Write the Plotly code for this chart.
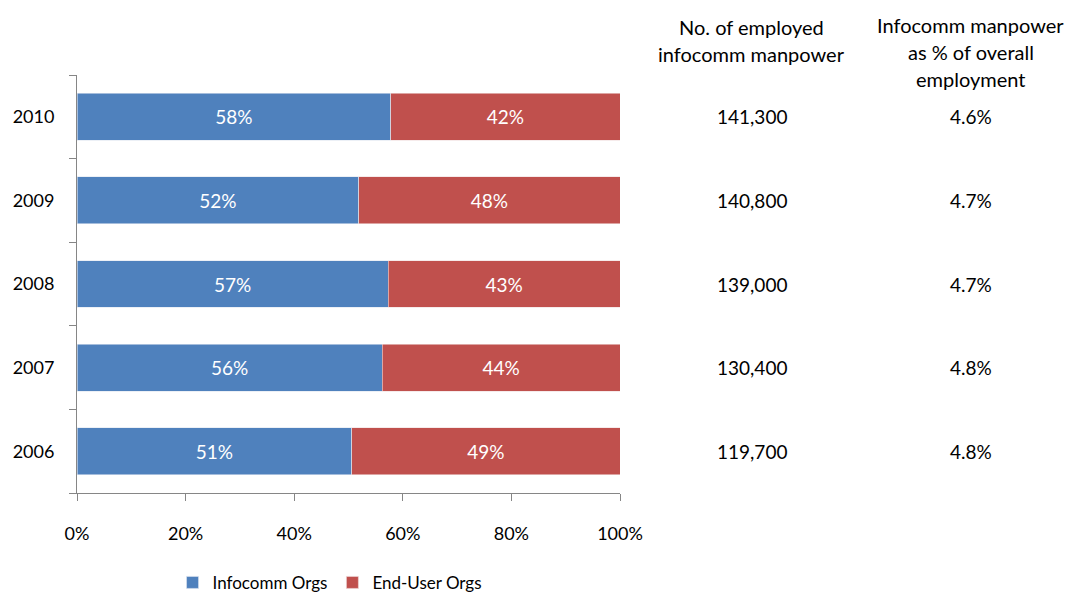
import plotly.graph_objects as go

years = ["2006", "2007", "2008", "2009", "2010"]
infocomm = [50.6, 56.2, 57.3, 51.9, 57.8]
enduser = [49.4, 43.8, 42.7, 48.1, 42.2]
manpower = ["119,700", "130,400", "139,000", "140,800", "141,300"]
pct_employment = ["4.8%", "4.8%", "4.7%", "4.7%", "4.6%"]
x_ticks = [0, 20, 40, 60, 80, 100]
x_tick_labels = ["0%", "20%", "40%", "60%", "80%", "100%"]
header1 = ["No. of employed", "infocomm manpower"]
header2 = ["Infocomm manpower", "as % of overall", "employment"]

FONT = "Lato, 'Open Sans', sans-serif"

fig = go.Figure()
fig.add_trace(go.Bar(
    y=years, x=infocomm, orientation="h", name="Infocomm Orgs",
    marker=dict(color="#4F81BD", line=dict(color="#dfe6f0", width=0.6)),
    text=[f"{round(v)}%" for v in infocomm], textposition="inside",
    insidetextanchor="middle", textfont=dict(color="white", size=19, family=FONT),
    hoverinfo="skip",
))
fig.add_trace(go.Bar(
    y=years, x=enduser, orientation="h", name="End-User Orgs",
    marker=dict(color="#C0504D", line=dict(color="#f0dede", width=0.6)),
    text=[f"{round(v)}%" for v in enduser], textposition="inside",
    insidetextanchor="middle", textfont=dict(color="white", size=19, family=FONT),
    hoverinfo="skip",
))

annotations = []
for i, (m, p) in enumerate(zip(manpower, pct_employment)):
    annotations.append(dict(x=1.243, y=i, xref="paper", yref="y", text=m,
                            showarrow=False, xanchor="center",
                            font=dict(size=19, color="black", family=FONT)))
    annotations.append(dict(x=1.646, y=i, xref="paper", yref="y", text=p,
                            showarrow=False, xanchor="center",
                            font=dict(size=19, color="black", family=FONT)))
for line, yy in zip(header1, [1.1148, 1.0502]):
    annotations.append(dict(x=1.243, y=yy, xref="paper", yref="paper", text=line,
                            showarrow=False, yanchor="middle", xanchor="center",
                            font=dict(size=20, color="black", family=FONT)))
for line, yy in zip(header2, [1.1196, 1.055, 0.9904]):
    annotations.append(dict(x=1.646, y=yy, xref="paper", yref="paper", text=line,
                            showarrow=False, yanchor="middle", xanchor="center",
                            font=dict(size=20, color="black", family=FONT)))

fig.update_layout(
    barmode="stack",
    bargap=0.44,
    width=1078, height=594,
    margin=dict(l=77, r=458, t=75, b=101, autoexpand=False),
    paper_bgcolor="white", plot_bgcolor="white",
    font=dict(family=FONT, size=16, color="black"),
    showlegend=True,
    legend=dict(orientation="h", x=0.466, xanchor="center", y=-0.215, yanchor="middle",
                font=dict(size=17, family=FONT), traceorder="normal", itemwidth=30),
    annotations=annotations,
    xaxis=dict(range=[0, 100], tickvals=x_ticks, ticktext=x_tick_labels,
               showgrid=False, zeroline=False, showline=True, linecolor="#868686",
               linewidth=1, ticks="outside", ticklen=7, tickcolor="#868686",
               ticklabelstandoff=17, tickfont=dict(size=18, family=FONT), automargin=False),
    yaxis=dict(type="category", categoryorder="array", categoryarray=years,
               range=[-0.5, len(years) - 0.5],
               showgrid=False, zeroline=False, showline=True, linecolor="#868686",
               linewidth=1, ticks="outside", ticklen=7, tickcolor="#868686",
               tickson="boundaries", ticklabelstandoff=18, tickfont=dict(size=18, family=FONT),
               automargin=False),
)

fig.write_html("out.html", config={"displayModeBar": False},
               post_script="document.body.style.margin='0';")
